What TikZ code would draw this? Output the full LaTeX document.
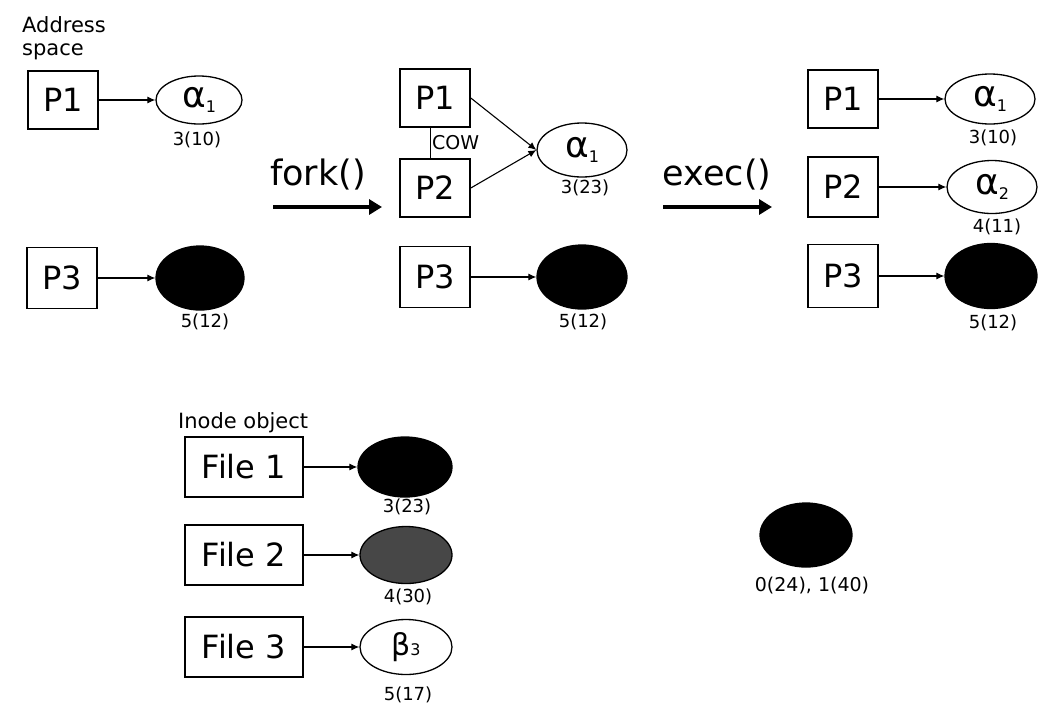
\documentclass[tikz,border=0pt]{standalone}
\usepackage{fontspec}
\setmainfont{DejaVu Sans}
\usetikzlibrary{shapes.geometric,arrows.meta,positioning}

\newcommand{\pg}[2]{#1{\fontsize{16}{18}\selectfont\raisebox{-5pt}{#2}}}

\tikzset{
  proc/.style={draw,line width=1.6pt,minimum width=70pt,minimum height=58pt,inner sep=0pt,font=\fontsize{32}{36}\selectfont},
  filebox/.style={proc,minimum width=118pt,minimum height=60pt},
  page/.style={draw,ellipse,line width=1.3pt,inner sep=0pt,minimum width=90pt,minimum height=52pt,font=\fontsize{36}{38}\selectfont},
  dark/.style={page,fill=black},
  cnt/.style={inner sep=0pt,font=\fontsize{18}{20}\selectfont},
  hdr/.style={inner sep=0pt,align=left,font=\fontsize{21}{23}\selectfont},
  call/.style={inner sep=0pt,font=\fontsize{35}{38}\selectfont},
  ptr/.style={line width=1.1pt,-{Latex[length=8pt,width=7pt]}},
  op/.style={line width=4.5pt,-{Triangle[length=13pt,width=15pt]}}
}

\begin{document}
\begin{tikzpicture}[x=1pt,y=-1pt] %Espacio de direcciones antes y despues de fork() y exec()
            \useasboundingbox (0,0) rectangle (1039,705);

            \node[hdr,anchor=north west] (addr) at (22,16) {Address\\space};

            % antes de fork()
            \node[proc] (p1a) at (63,100) {P1};
            \node[page,minimum width=86pt,minimum height=48pt] (a1a) at (199,100) {\pg{α}{1}};
            \node[cnt] (c1a) at (197,140) {3(10)};

            \node[proc,minimum height=61pt] (p3a) at (62,278) {P3};
            \node[dark,minimum width=88pt,minimum height=64pt] (b3a) at (200,278) {};
            \node[cnt] (c3a) at (205,322) {5(12)};

            \draw[ptr] (p1a) -- (a1a);
            \draw[ptr] (p3a) -- (b3a);

            % fork()
            \node[call] (fork) at (318,175) {fork()};
            \coordinate (f0) at (273,207);
            \coordinate (f1) at (382,207);
            \draw[op] (f0) -- (f1);

            \node[proc,minimum height=58pt] (p1b) at (435,98) {P1};
            \node[proc] (p2b) at (435,188) {P2};
            \node[page,minimum height=54pt] (a1b) at (582,150) {\pg{α}{1}};
            \node[cnt] (c1b) at (585,188) {3(23)};

            \draw ([xshift=-5pt]p1b.south) -- node[right,inner sep=2pt,font=\fontsize{19}{21}\selectfont] (cow) {COW} ([xshift=-5pt]p2b.north);
            \draw[ptr] (p1b.east) -- (a1b.west);
            \draw[ptr] (p2b.east) -- (a1b.west);

            \node[proc,minimum height=61pt] (p3b) at (435,277) {P3};
            \node[dark,minimum height=64pt] (b3b) at (582,277) {};
            \node[cnt] (c3b) at (583,322) {5(12)};
            \draw[ptr] (p3b) -- (b3b);

            % exec()
            \node[call] (exec) at (717,175) {exec()};
            \coordinate (e0) at (663,207);
            \coordinate (e1) at (772,207);
            \draw[op] (e0) -- (e1);

            \node[proc] (p1c) at (843,99) {P1};
            \node[page,minimum height=50pt] (a1c) at (990,99) {\pg{α}{1}};
            \node[cnt] (c1c) at (993,138) {3(10)};

            \node[proc,minimum height=60pt] (p2c) at (843,187) {P2};
            \node[page,minimum height=53pt] (a2c) at (992,187) {\pg{α}{2}};
            \node[cnt] (c2c) at (997,227) {4(11)};

            \node[proc,minimum height=63pt] (p3c) at (843,276) {P3};
            \node[dark,minimum width=92pt,minimum height=65pt] (b3c) at (991,276) {};
            \node[cnt] (c3c) at (993,323) {5(12)};

            \draw[ptr] (p1c) -- (a1c);
            \draw[ptr] (p2c) -- (a2c);
            \draw[ptr] (p3c) -- (b3c);

            % objetos inode
            \node[hdr,anchor=base west] (inode) at (178,428) {Inode object};

            \node[filebox] (f1b) at (244,467) {File 1};
            \node[dark,minimum width=94pt,minimum height=60pt] (i1) at (405,467) {};
            \node[cnt] (ci1) at (407,507) {3(23)};

            \node[filebox] (f2b) at (244,555) {File 2};
            \node[dark,fill=black!72,minimum width=92pt,minimum height=57pt] (i2) at (406,555) {};
            \node[cnt] (ci2) at (408,597) {4(30)};

            \node[filebox] (f3b) at (244,647) {File 3};
            \node[page,minimum width=92pt,minimum height=55pt,font=\fontsize{30}{32}\selectfont] (i3) at (406,647) {β{\fontsize{16}{18}\selectfont 3}};
            \node[cnt] (ci3) at (408,695) {5(17)};

            \draw[ptr] (f1b) -- (i1);
            \draw[ptr] (f2b) -- (i2);
            \draw[ptr] (f3b) -- (i3);

            \node[dark,minimum width=92pt,minimum height=64pt] (free) at (806,535) {};
            \node[cnt,font=\fontsize{19}{21}\selectfont] (cfree) at (812,586) {0(24), 1(40)};
\end{tikzpicture}
\end{document}
